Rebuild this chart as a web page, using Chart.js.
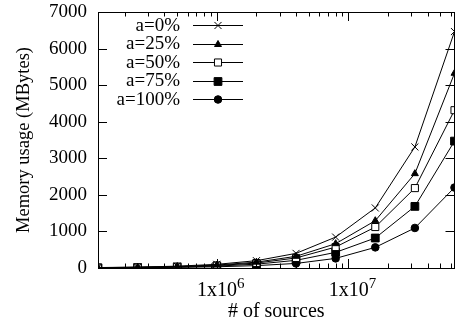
<!DOCTYPE html>
<html>
<head>
<meta charset="utf-8">
<script src="https://cdn.jsdelivr.net/npm/chart.js@4"></script>
<style>
  html, body { margin: 0; padding: 0; background: #fff; }
  canvas { display: block; }
</style>
</head>
<body>
<canvas id="chart" width="461" height="329"></canvas>
<script>
// number of sources (x, log scale)
const sources = [125000, 250000, 500000, 1000000, 2000000, 4000000, 8000000, 16000000, 32000000, 64000000];

// memory usage in MBytes, one array per series
const memA0   = [12, 25, 50, 100, 200, 400, 845, 1642, 3310, 6465];
const memA25  = [10, 20, 40, 80, 160, 320, 665, 1293, 2580, 5325];
const memA50  = [8, 17, 34, 68, 135, 275, 573, 1120, 2185, 4315];
const memA75  = [6, 13, 26, 52, 105, 210, 428, 820, 1685, 3470];
const memA100 = [4, 8, 17, 33, 65, 125, 263, 564, 1095, 2200];

const seriesLabels = ['a=0%', 'a=25%', 'a=50%', 'a=75%', 'a=100%'];
const seriesValues = [memA0, memA25, memA50, memA75, memA100];

const yTicks = [0, 1000, 2000, 3000, 4000, 5000, 6000, 7000];
const xMajorTicks = [1000000, 10000000];
const xTickBase = ['1x10', '1x10'];
const xTickExp = ['6', '7'];

const FONT = "'Liberation Serif', 'Times New Roman', serif";
Chart.defaults.font.family = FONT;
Chart.defaults.color = '#000';

const markers = [
  { style: 'crossRot', radius: 5, fill: '#000' },
  { style: 'triangle', radius: 4, fill: '#000' },
  { style: 'rect', radius: 5, fill: '#fff' },
  { style: 'rect', radius: 5.5, fill: '#000' },
  { style: 'circle', radius: 3.8, fill: '#000' },
];

const datasets = seriesLabels.map((label, i) => ({
  label: label,
  data: sources.map((x, j) => ({ x: x, y: seriesValues[i][j] })),
  borderColor: '#000',
  borderWidth: 1,
  pointStyle: markers[i].style,
  pointRadius: markers[i].radius,
  pointHoverRadius: markers[i].radius,
  pointBackgroundColor: markers[i].fill,
  pointBorderColor: '#000',
  pointBorderWidth: 1,
  tension: 0,
  fill: false,
}));

// gnuplot-like frame, inward ticks, x labels with superscripts, legend
const framePlugin = {
  id: 'frame',
  afterDraw(chart) {
    const ctx = chart.ctx;
    const a = chart.chartArea;
    const xs = chart.scales.x;
    const ys = chart.scales.y;
    ctx.save();
    ctx.strokeStyle = '#000';
    ctx.lineWidth = 1;

    // frame
    ctx.strokeRect(Math.round(a.left) + 0.5, Math.round(a.top) + 0.5,
      Math.round(a.right - a.left) - 1, Math.round(a.bottom - a.top));

    ctx.beginPath();
    // y ticks left and right
    yTicks.forEach(v => {
      const y = Math.round(ys.getPixelForValue(v)) + 0.5;
      ctx.moveTo(a.left, y); ctx.lineTo(a.left + 9, y);
      ctx.moveTo(a.right, y); ctx.lineTo(a.right - 9, y);
    });
    // x ticks, major and minor, bottom and top
    for (let dec = 100000; dec <= 10000000; dec *= 10) {
      for (let m = 1; m <= 9; m++) {
        const v = dec * m;
        if (v < xs.min || v > xs.max) continue;
        const x = Math.round(xs.getPixelForValue(v)) + 0.5;
        const len = m === 1 ? 9 : 4.5;
        ctx.moveTo(x, a.bottom); ctx.lineTo(x, a.bottom - len);
        ctx.moveTo(x, a.top); ctx.lineTo(x, a.top + len);
      }
    }
    ctx.stroke();

    // x tick labels
    ctx.fillStyle = '#000';
    ctx.textBaseline = 'alphabetic';
    xMajorTicks.forEach((v, i) => {
      const x = xs.getPixelForValue(v);
      ctx.font = '20px ' + FONT;
      const wBase = ctx.measureText(xTickBase[i]).width;
      ctx.font = '15px ' + FONT;
      const wExp = ctx.measureText(xTickExp[i]).width;
      const start = x + 4 - (wBase + wExp) / 2;
      ctx.font = '20px ' + FONT;
      ctx.textAlign = 'left';
      ctx.fillText(xTickBase[i], start, 296);
      ctx.font = '15px ' + FONT;
      ctx.fillText(xTickExp[i], start + wBase, 288);
    });

    // legend
    ctx.font = '19px ' + FONT;
    chart.data.datasets.forEach((ds, i) => {
      const y = 25 + i * 18.5;
      ctx.textAlign = 'right';
      ctx.textBaseline = 'middle';
      ctx.fillStyle = '#000';
      ctx.fillText(ds.label, 180, y + 1);
      ctx.beginPath();
      ctx.moveTo(193, Math.round(y) + 0.5);
      ctx.lineTo(243, Math.round(y) + 0.5);
      ctx.stroke();
      ctx.fillStyle = ds.pointBackgroundColor;
      ctx.strokeStyle = '#000';
      ctx.lineWidth = 1;
      Chart.helpers.drawPoint(ctx, {
        pointStyle: ds.pointStyle,
        radius: ds.pointRadius,
        rotation: 0,
        borderWidth: 1,
      }, 218, Math.round(y) + 0.5);
    });
    ctx.restore();
  }
};

new Chart(document.getElementById('chart'), {
  type: 'line',
  data: { datasets: datasets },
  options: {
    responsive: false,
    animation: false,
    events: [],
    layout: { padding: { left: 0, top: 12, right: 2, bottom: 0 } },
    plugins: {
      legend: { display: false },
      tooltip: { enabled: false },
    },
    scales: {
      x: {
        type: 'logarithmic',
        min: 125000,
        max: 64000000,
        grid: { display: false, drawTicks: false },
        border: { display: false },
        ticks: { display: false },
        title: {
          display: true,
          text: '# of sources',
          font: { size: 20 },
          padding: { top: 0, bottom: 5 },
        },
        afterFit(scale) {
          scale.height = 61;
          scale.paddingLeft = 0;
          scale.paddingRight = 0;
        },
      },
      y: {
        min: 0,
        max: 7000,
        grid: { display: false, drawTicks: false },
        border: { display: false },
        ticks: {
          stepSize: 1000,
          padding: 11,
          font: { size: 19 },
          callback: v => String(v),
        },
        title: {
          display: true,
          text: 'Memory usage (MBytes)',
          font: { size: 18.5 },
          padding: { top: 13, bottom: 0 },
        },
        afterFit(scale) {
          scale.width = 98;
          scale.paddingTop = 0;
          scale.paddingBottom = 0;
        },
      },
    },
  },
  plugins: [framePlugin],
});
</script>
</body>
</html>
